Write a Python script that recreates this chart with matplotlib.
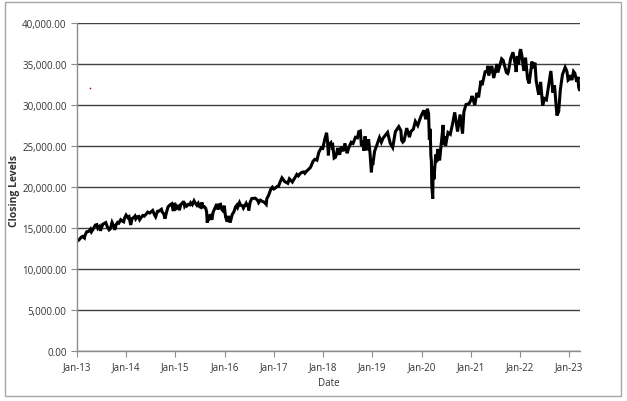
import matplotlib
matplotlib.use("Agg")
import matplotlib.pyplot as plt
import matplotlib.dates as mdates
from matplotlib.patches import Rectangle
from matplotlib.ticker import FuncFormatter, MultipleLocator
import pandas as pd

dates = [
"2013-01-02","2013-01-15","2013-01-31","2013-02-11","2013-02-25","2013-02-28","2013-03-14","2013-03-28","2013-04-11","2013-04-18","2013-04-30","2013-05-17","2013-05-28","2013-06-05","2013-06-17","2013-06-24","2013-07-11","2013-07-22","2013-08-02","2013-08-15","2013-08-27","2013-09-06","2013-09-18","2013-10-01","2013-10-08","2013-10-18","2013-10-29","2013-11-07","2013-11-21","2013-12-05","2013-12-13","2013-12-20","2013-12-31",
"2014-01-13","2014-01-22","2014-02-03","2014-02-14","2014-02-28","2014-03-07","2014-03-13","2014-03-25","2014-04-04","2014-04-11","2014-04-25","2014-05-05","2014-05-15","2014-05-30","2014-06-09","2014-06-24","2014-07-03","2014-07-16","2014-07-31","2014-08-07","2014-08-21","2014-09-02","2014-09-19","2014-09-25","2014-10-07","2014-10-15","2014-10-23","2014-11-07","2014-11-21","2014-12-05","2014-12-16","2014-12-26","2014-12-31",
"2015-01-06","2015-01-16","2015-01-22","2015-01-30","2015-02-10","2015-02-27","2015-03-02","2015-03-10","2015-03-17","2015-03-26","2015-04-06","2015-04-17","2015-04-24","2015-05-06","2015-05-19","2015-05-29","2015-06-09","2015-06-19","2015-06-29","2015-07-08","2015-07-16","2015-07-24","2015-08-03","2015-08-13","2015-08-20","2015-08-25","2015-08-31","2015-09-09","2015-09-17","2015-09-28","2015-10-07","2015-10-22","2015-11-03","2015-11-13","2015-11-20","2015-12-01","2015-12-11","2015-12-18","2015-12-29",
"2016-01-08","2016-01-20","2016-01-29","2016-02-11","2016-02-26","2016-03-10","2016-03-22","2016-04-01","2016-04-07","2016-04-20","2016-04-29","2016-05-12","2016-05-19","2016-06-08","2016-06-16","2016-06-23","2016-06-27","2016-07-08","2016-07-20","2016-08-15","2016-08-31","2016-09-09","2016-09-22","2016-10-07","2016-10-21","2016-11-04","2016-11-09","2016-11-21","2016-12-09","2016-12-20","2016-12-30",
"2017-01-12","2017-01-25","2017-02-03","2017-02-15","2017-03-01","2017-03-21","2017-04-13","2017-04-25","2017-05-17","2017-05-31","2017-06-19","2017-06-30","2017-07-14","2017-07-27","2017-08-10","2017-08-18","2017-08-31","2017-09-12","2017-09-29","2017-10-18","2017-10-31","2017-11-15","2017-11-30","2017-12-18","2017-12-29",
"2018-01-12","2018-01-26","2018-02-02","2018-02-08","2018-02-15","2018-02-27","2018-03-08","2018-03-13","2018-03-23","2018-04-02","2018-04-09","2018-04-18","2018-05-03","2018-05-14","2018-05-29","2018-06-11","2018-06-27","2018-07-09","2018-07-27","2018-08-10","2018-08-28","2018-09-12","2018-09-21","2018-10-03","2018-10-11","2018-10-17","2018-10-29","2018-11-07","2018-11-20","2018-12-03","2018-12-14","2018-12-24","2018-12-31",
"2019-01-03","2019-01-17","2019-01-31","2019-02-22","2019-03-08","2019-03-21","2019-04-12","2019-04-23","2019-05-13","2019-05-31","2019-06-20","2019-07-15","2019-07-31","2019-08-05","2019-08-14","2019-08-23","2019-09-12","2019-10-02","2019-10-14","2019-10-31","2019-11-15","2019-12-03","2019-12-27",
"2020-01-17","2020-01-31","2020-02-12","2020-02-21","2020-02-27","2020-03-04","2020-03-09","2020-03-13","2020-03-16","2020-03-23","2020-03-26","2020-04-01","2020-04-14","2020-04-21","2020-04-29","2020-05-13","2020-05-27","2020-06-08","2020-06-11","2020-06-23","2020-06-26","2020-07-14","2020-07-31","2020-08-18","2020-09-02","2020-09-23","2020-10-12","2020-10-30","2020-11-09","2020-11-24","2020-12-18","2020-12-31",
"2021-01-08","2021-01-29","2021-02-12","2021-02-26","2021-03-15","2021-03-24","2021-04-15","2021-04-29","2021-05-07","2021-05-12","2021-06-04","2021-06-18","2021-07-12","2021-07-19","2021-08-16","2021-08-27","2021-09-20","2021-09-30","2021-10-04","2021-10-22","2021-11-08","2021-11-30","2021-12-01","2021-12-10","2021-12-20","2021-12-29",
"2022-01-04","2022-01-14","2022-01-27","2022-02-09","2022-02-24","2022-03-08","2022-03-29","2022-04-06","2022-04-20","2022-04-29","2022-05-11","2022-05-19","2022-06-01","2022-06-16","2022-06-30","2022-07-14","2022-08-16","2022-08-31","2022-09-12","2022-09-30","2022-10-13","2022-10-25","2022-11-10","2022-11-30","2022-12-13","2022-12-22","2022-12-30",
"2023-01-06","2023-01-19","2023-01-31","2023-02-10","2023-02-24","2023-03-06","2023-03-09","2023-03-15","2023-03-17",
]
closes = [
13412,13535,13861,13972,13784,14054,14539,14579,14865,14537,14840,15354,15409,14960,15179,14660,15460,15545,15658,15112,14776,14922,15676,15191,14776,15399,15680,15593,16010,15821,15755,16221,16577,
16257,16373,15373,16154,16322,16453,16109,16367,16412,16027,16361,16530,16447,16717,16943,16818,16956,17138,16563,16368,17039,17068,17280,16945,16719,16142,16677,17573,17810,17958,17068,18053,17823,
17372,17512,17814,17165,17868,18133,18288,17662,17849,17679,17880,17826,18080,17841,18312,18011,17765,18015,17597,17515,18120,17569,17599,17409,16990,15666,16528,16254,16675,16001,16912,17489,17918,17245,17824,17888,17265,17128,17720,
16346,15766,16466,15660,16640,16995,17582,17792,17542,18096,17774,17720,17435,18005,17640,18011,17140,18147,18595,18636,18400,18085,18392,18240,18146,17888,18590,18957,19757,19975,19763,
19892,20069,20071,20612,21115,20668,20453,20997,20607,21009,21529,21350,21638,21797,21844,21675,21948,22119,22405,23158,23377,23272,24272,24792,24719,
25804,26617,25521,23860,25201,25410,24896,25008,23533,23644,23980,24748,23930,24899,24362,25322,24118,24776,25451,25313,26064,25999,26744,26828,25053,25706,24443,26180,24466,25826,24100,21792,23327,
22686,24370,24999,26031,25450,25963,26412,26656,25324,24815,26753,27359,26864,25718,25479,25629,27182,26079,26787,27046,28004,27503,28645,
29348,28256,29551,28992,25766,27091,23851,23185,20189,18592,22552,20943,23949,23019,24634,23248,25548,27572,25128,26156,25016,26643,26428,27778,29100,26763,28837,26502,29158,30046,30179,30606,
31098,29983,31458,30932,32953,32420,34036,34060,34778,33587,34756,33290,34996,33962,35625,35456,33970,33844,34003,35677,36432,34484,34022,35971,34932,36488,
36800,35912,34160,35768,33223,32632,35294,34496,35161,32977,31834,31253,32813,29927,30775,30630,34152,31510,32381,28725,29210,31837,33715,34590,34108,33027,33147,
33631,33045,34086,33869,32817,33431,32254,31874,31862,
]

# stray red point visible in the reference
stray_dates = ["2013-04-08"]
stray_values = [32050]

x_label = "Date"
y_label = "Closing Levels"

series = pd.Series(closes, index=pd.to_datetime(dates))

fig = plt.figure(figsize=(6.27, 4.02), dpi=100)
fig.patch.set_facecolor("white")
fig.patches.append(Rectangle((5/627, 1 - 397/402), 616/627, 394/402, transform=fig.transFigure,
                             fill=False, edgecolor="#a6a6a6", linewidth=1.0))

ax = fig.add_axes([77/627, 1 - 352/402, (580 - 77)/627, (352 - 24)/402])
ax.plot(series.index, series.values, color="black", linewidth=2.2, solid_joinstyle="miter")
ax.scatter(pd.to_datetime(stray_dates), stray_values, s=1.5, color="#c00000", linewidths=0, zorder=3)

ax.set_ylim(0, 40000)
ax.set_xlim(pd.Timestamp("2013-01-01"), pd.Timestamp("2023-03-20"))
ax.yaxis.set_major_locator(MultipleLocator(5000))
ax.yaxis.set_major_formatter(FuncFormatter(lambda v, p: f"{v:,.2f}"))
ax.xaxis.set_major_locator(mdates.YearLocator(month=1, day=1))
ax.xaxis.set_major_formatter(mdates.DateFormatter("%b-%y"))

ax.grid(axis="y", color="#404040", linewidth=1.0)
ax.set_axisbelow(True)
for s in ["top", "right"]:
    ax.spines[s].set_visible(False)
for s in ["left", "bottom"]:
    ax.spines[s].set_color("#8c8c8c")
    ax.spines[s].set_linewidth(1.0)

ax.tick_params(axis="both", colors="#8c8c8c", labelcolor="#333333", labelsize=7, length=4,
               direction="out")
for lab in ax.get_xticklabels() + ax.get_yticklabels():
    lab.set_fontfamily("Open Sans")

ax.set_xlabel(x_label, fontsize=7, family="Open Sans", color="#333333", labelpad=3)
ax.set_ylabel(y_label, fontsize=7.5, family="Open Sans", fontweight="bold", color="#333333")
ax.yaxis.set_label_coords((20 - 77) / 503, 0.49)

fig.savefig("out.png", dpi=100, facecolor="white")
